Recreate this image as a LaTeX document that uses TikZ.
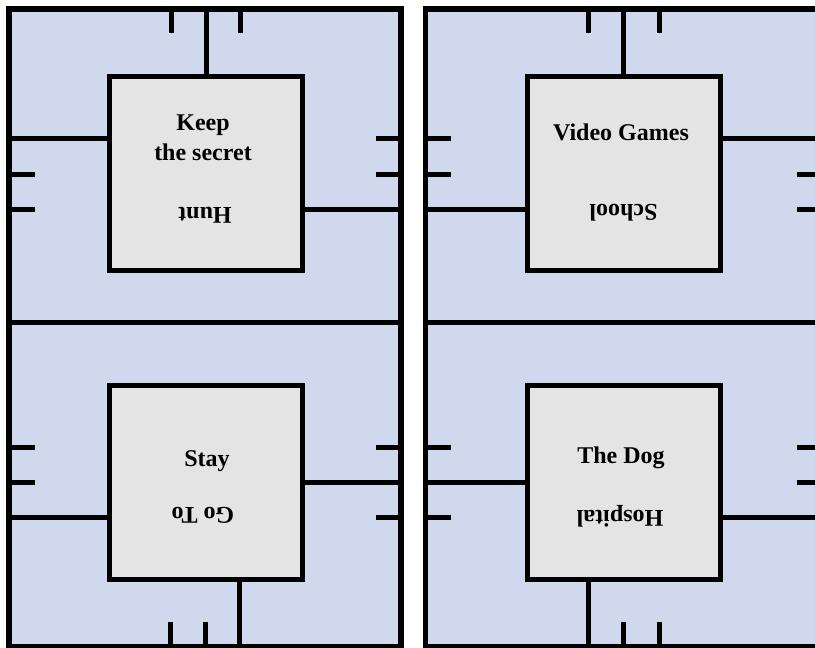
\documentclass[tikz,border=0pt]{standalone}
\usepackage{fontspec}
\setmainfont{Liberation Serif}
\definecolor{panelblue}{RGB}{207,216,236}
\definecolor{boxgray}{RGB}{228,228,228}
\begin{document}
\begin{tikzpicture}[x=1pt,y=-1pt,
  wall/.style={draw=black,line width=5pt},
  panel/.style={fill=panelblue,draw=black,line width=5.5pt},
  room/.style={draw=black,fill=boxgray,line width=5pt,minimum width=193pt,minimum height=194pt,inner sep=0pt},
  lbl/.style={font=\bfseries\fontsize{24}{30}\selectfont,align=center,inner sep=0pt},
  flip/.style={lbl,rotate=180}]
\useasboundingbox (0,0) rectangle (815,648);
\clip (0,0) rectangle (815,648);
% panels
\draw[panel] (9,9) rectangle (401,646.5);
\draw[panel] (425.5,9) rectangle (817.5,646.5);
\coordinate (LmL) at (9,322); \coordinate (LmR) at (401,322);
\coordinate (RmL) at (425.5,322); \coordinate (RmR) at (817.5,322);
\draw[wall] (LmL) -- (LmR);
\draw[wall] (RmL) -- (RmR);
% rooms
\node[room] (A) at (205.5,173.5) {};
\node[room] (B) at (205.5,482) {};
\node[room] (C) at (624,173.5) {};
\node[room] (D) at (624,482) {};
% labels
\node[lbl] (At) at (203,138) {Keep\\the secret};
\node[flip] (Ab) at (205,215) {Hunt};
\node[lbl] (Bt) at (207,461) {Stay};
\node[flip] (Bb) at (203,515) {Go To};
\node[lbl] (Ct) at (621,132) {Video Games};
\node[flip] (Cb) at (623.5,213) {School};
\node[lbl] (Dt) at (621,458) {The Dog};
\node[flip] (Db) at (620,516) {Hospital};
% --- room A connectors
\coordinate (Atop) at (206,9);
\coordinate (Aleft) at (9,138);
\coordinate (Aright) at (401,209);
\draw[wall] (A.north -| Atop) -- (Atop);
\draw[wall] (Aleft) -- (Aleft -| A.west);
\draw[wall] (Aright) -- (Aright -| A.east);
% A ticks
\coordinate (At1a) at (171,9); \coordinate (At1b) at (171,33);
\coordinate (At2a) at (240,9); \coordinate (At2b) at (240,33);
\coordinate (Al1a) at (9,174); \coordinate (Al1b) at (35,174);
\coordinate (Al2a) at (9,209); \coordinate (Al2b) at (35,209);
\coordinate (Ar1a) at (401,138); \coordinate (Ar1b) at (376,138);
\coordinate (Ar2a) at (401,174); \coordinate (Ar2b) at (376,174);
\foreach \t in {At1,At2,Al1,Al2,Ar1,Ar2} \draw[wall] (\t a) -- (\t b);
% --- room B connectors
\coordinate (Bbot) at (239,646.5);
\coordinate (Bleft) at (9,517);
\coordinate (Bright) at (401,482);
\draw[wall] (Bbot |- B.south) -- (Bbot);
\draw[wall] (Bleft) -- (Bleft -| B.west);
\draw[wall] (Bright) -- (Bright -| B.east);
\coordinate (Bb1a) at (170,646.5); \coordinate (Bb1b) at (170,622);
\coordinate (Bb2a) at (205,646.5); \coordinate (Bb2b) at (205,622);
\coordinate (Bl1a) at (9,447); \coordinate (Bl1b) at (35,447);
\coordinate (Bl2a) at (9,482); \coordinate (Bl2b) at (35,482);
\coordinate (Br1a) at (401,447); \coordinate (Br1b) at (376,447);
\coordinate (Br2a) at (401,517); \coordinate (Br2b) at (376,517);
\foreach \t in {Bb1,Bb2,Bl1,Bl2,Br1,Br2} \draw[wall] (\t a) -- (\t b);
% --- room C connectors
\coordinate (Ctop) at (623,9);
\coordinate (Cleft) at (425.5,209);
\coordinate (Cright) at (817.5,138);
\draw[wall] (C.north -| Ctop) -- (Ctop);
\draw[wall] (Cleft) -- (Cleft -| C.west);
\draw[wall] (Cright) -- (Cright -| C.east);
\coordinate (Ct1a) at (588,9); \coordinate (Ct1b) at (588,33);
\coordinate (Ct2a) at (659,9); \coordinate (Ct2b) at (659,33);
\coordinate (Cl1a) at (425.5,138); \coordinate (Cl1b) at (451,138);
\coordinate (Cl2a) at (425.5,174); \coordinate (Cl2b) at (451,174);
\coordinate (Cr1a) at (817.5,174); \coordinate (Cr1b) at (797,174);
\coordinate (Cr2a) at (817.5,209); \coordinate (Cr2b) at (797,209);
\foreach \t in {Ct1,Ct2,Cl1,Cl2,Cr1,Cr2} \draw[wall] (\t a) -- (\t b);
% --- room D connectors
\coordinate (Dbot) at (588,646.5);
\coordinate (Dleft) at (425.5,482);
\coordinate (Dright) at (817.5,517);
\draw[wall] (Dbot |- D.south) -- (Dbot);
\draw[wall] (Dleft) -- (Dleft -| D.west);
\draw[wall] (Dright) -- (Dright -| D.east);
\coordinate (Db1a) at (623,646.5); \coordinate (Db1b) at (623,622);
\coordinate (Db2a) at (659,646.5); \coordinate (Db2b) at (659,622);
\coordinate (Dl1a) at (425.5,447); \coordinate (Dl1b) at (451,447);
\coordinate (Dl2a) at (425.5,517); \coordinate (Dl2b) at (451,517);
\coordinate (Dr1a) at (817.5,447); \coordinate (Dr1b) at (797,447);
\coordinate (Dr2a) at (817.5,482); \coordinate (Dr2b) at (797,482);
\foreach \t in {Db1,Db2,Dl1,Dl2,Dr1,Dr2} \draw[wall] (\t a) -- (\t b);
\end{tikzpicture}
\end{document}
